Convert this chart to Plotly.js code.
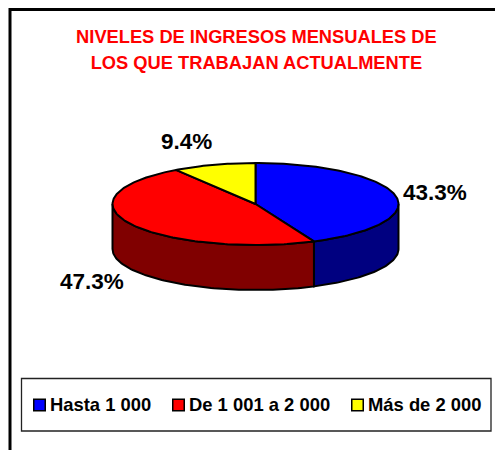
<!DOCTYPE html>
<html><head><meta charset="utf-8">
<script src="https://cdn.plot.ly/plotly-3.0.1.min.js"></script>
<style>html,body{margin:0;padding:0;background:#fff}</style></head>
<body><div id="chart" style="width:495px;height:450px"></div>
<script>
const categories = ["Hasta 1 000", "De 1 001 a 2 000", "Más de 2 000"];
const shares = [43.3, 47.3, 9.4];
const labelsText = ["43.3%", "47.3%", "9.4%"];
const topColors = ["#0000ff", "#ff0000", "#ffff00"];
const sideColors = ["#000080", "#800000", "#808000"];
const labelX = [435, 91.5, 186];
const labelY = [192, 281, 141];
const legendX = [39.5, 178.5, 357.5];
const legendTextX = [50, 189, 368];
const legendY = 405;
const legendTextY = 406;

const cx = 255.5, cy = 204, rx = 143, ry = 41, depth = 45;
const px = a => cx + rx * Math.sin(a);
const py = (a, d) => cy - ry * Math.cos(a) + d;
const traces = [];
const total = shares.reduce((s, v) => s + v, 0);
let start = 0;
const ranges = shares.map(v => { const a0 = start; start += v / total * 2 * Math.PI; return [a0, start]; });
const arc = (a0, a1) => { const out = []; const n = Math.max(2, Math.ceil((a1 - a0) / 0.02)); for (let i = 0; i <= n; i++) out.push(a0 + (a1 - a0) * i / n); return out; };
const font = "Liberation Sans, Arial, sans-serif";

// side walls: visible only for the front half of the ellipse
ranges.forEach((r, i) => {
  const a0 = Math.max(r[0], Math.PI / 2), a1 = Math.min(r[1], 3 * Math.PI / 2);
  if (a1 <= a0) return;
  const as = arc(a0, a1);
  const xs = as.map(px).concat(as.slice().reverse().map(px));
  const ys = as.map(a => py(a, 0)).concat(as.slice().reverse().map(a => py(a, depth)));
  xs.push(xs[0]); ys.push(ys[0]);
  traces.push({x: xs, y: ys, mode: "lines", fill: "toself", fillcolor: sideColors[i],
    line: {color: "#000", width: 2}, showlegend: false, hoverinfo: "skip"});
});
// top faces
ranges.forEach((r, i) => {
  const as = arc(r[0], r[1]);
  const xs = [cx].concat(as.map(px), [cx]);
  const ys = [cy].concat(as.map(a => py(a, 0)), [cy]);
  traces.push({x: xs, y: ys, mode: "lines", fill: "toself", fillcolor: topColors[i],
    line: {color: "#000", width: 2}, showlegend: false, hoverinfo: "skip"});
});
// legend entries inside the framed box
categories.forEach((c, i) => {
  traces.push({x: [legendX[i]], y: [legendY], mode: "markers",
    marker: {symbol: "square", size: 11.5, color: topColors[i], line: {color: "#000", width: 1.5}},
    showlegend: false, hoverinfo: "skip"});
  traces.push({x: [legendTextX[i]], y: [legendTextY], mode: "text", text: [c],
    textposition: "middle right", textfont: {family: font, size: 18.4, color: "#000", weight: "bold"},
    showlegend: false, hoverinfo: "skip", cliponaxis: false});
});

const layout = {
  width: 495, height: 450, margin: {l: 0, r: 0, t: 0, b: 0},
  paper_bgcolor: "#fff", plot_bgcolor: "#fff",
  xaxis: {range: [0, 495], visible: false, fixedrange: true},
  yaxis: {range: [450, 0], visible: false, fixedrange: true},
  title: {text: '<span style="font-size:18.3px">NIVELES DE INGRESOS MENSUALES DE<br>LOS QUE TRABAJAN ACTUALMENTE</span>',
    font: {family: font, size: 20, color: "#ff0000", weight: "bold"}, x: 0.518, xanchor: "center", y: 0.905, yanchor: "middle"},
  shapes: [
    {type: "rect", xref: "x", yref: "y", x0: 10, x1: 520, y0: 9.5, y1: 480, line: {color: "#000", width: 3}, layer: "below"},
    {type: "rect", xref: "x", yref: "y", x0: 21.5, x1: 491, y0: 378.5, y1: 431, line: {color: "#222", width: 1.3}, layer: "below"}
  ],
  annotations: labelsText.map((t, i) => ({x: labelX[i], y: labelY[i], xref: "x", yref: "y", text: t,
    showarrow: false, font: {family: font, size: 22.5, color: "#000", weight: "bold"}})),
  showlegend: false
};
Plotly.newPlot("chart", traces, layout, {displayModeBar: false, staticPlot: true});
</script></body></html>
